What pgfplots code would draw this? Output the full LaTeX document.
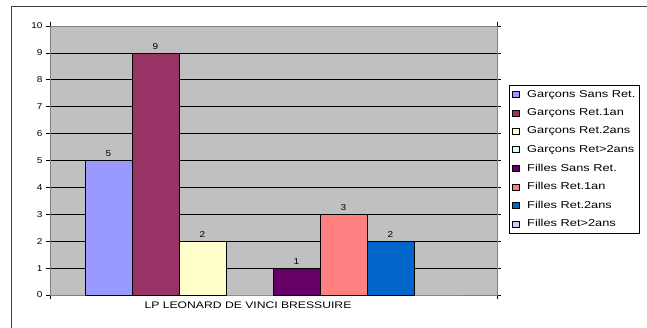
\documentclass[border=0pt]{standalone}
\usepackage{fontspec}
\setmainfont{Liberation Sans}[FakeStretch=1.18]
\newfontfamily\legfont{Liberation Sans}[FakeStretch=1.28]
\usepackage{pgfplots}
\pgfplotsset{compat=1.18}
\definecolor{plotgray}{HTML}{C0C0C0}
\definecolor{bordergray}{HTML}{808080}
\definecolor{cA}{HTML}{9999FF}
\definecolor{cB}{HTML}{993366}
\definecolor{cC}{HTML}{FFFFCC}
\definecolor{cD}{HTML}{CCFFFF}
\definecolor{cE}{HTML}{660066}
\definecolor{cF}{HTML}{FF8080}
\definecolor{cG}{HTML}{0066CC}
\definecolor{cH}{HTML}{CCCCFF}
\begin{document}
\begin{tikzpicture}[x=1pt,y=1pt]
\path[use as bounding box] (0,0) rectangle (647,327);
\draw[line width=1pt, black!75] (11,-20) rectangle (700,320);
\begin{axis}[
  at={(50pt,32pt)}, anchor=south west, scale only axis,
  width=447pt, height=269pt,
  xmin=0, xmax=447, ymin=0, ymax=10,
  ytick={0,1,...,10},
  xtick={0,447}, xticklabels={},
  extra x ticks={198}, extra x tick labels={LP LEONARD DE VINCI BRESSUIRE},
  extra x tick style={major tick length=0pt, grid=none,
    ticklabel style={font=\legfont\fontsize{9.5}{11}\selectfont, yshift=-3pt}},
  axis background/.style={fill=plotgray},
  axis line style={draw=bordergray, line width=0.8pt},
  ymajorgrids, major grid style={black, line width=0.6pt},
  tick align=outside, major tick length=4pt,
  tick style={black, line width=0.6pt},
  /pgf/number format/assume math mode=true,
  ticklabel style={font=\fontsize{8.5}{10}\selectfont},
  ybar,
  bar width=47,
  mybar/.style={fill=#1, draw=black, line width=0.5pt, bar shift=0pt,
    legend image code/.code={\path[draw=none, fill=none] (0pt,-3pt) rectangle (14pt,3pt);
      \draw[fill=#1, draw=black, line width=0.5pt] (1pt,-3pt) rectangle (8pt,3pt);}},
  lab/.style={nodes near coords, every node near coord/.append style={font=\fontsize{8.5}{10}\selectfont, black, /pgf/number format/assume math mode=true}},
  legend style={at={(1.0268,0.7807)}, anchor=north west, draw=black, line width=0.5pt,
    fill=white, font=\legfont\fontsize{10}{12}\selectfont, row sep=5.9pt, inner xsep=2pt, inner ysep=3pt},
  legend cell align=left,
]
\addplot[mybar=cA, lab] coordinates {(58.5,5)};
\addplot[mybar=cB, lab] coordinates {(105.5,9)};
\addplot[mybar=cC, lab] coordinates {(152.5,2)};
\addplot[mybar=cD, draw=none] coordinates {(199.5,0)};
\addplot[mybar=cE, lab] coordinates {(246.5,1)};
\addplot[mybar=cF, lab] coordinates {(293.5,3)};
\addplot[mybar=cG, lab] coordinates {(340.5,2)};
\addplot[mybar=cH, draw=none] coordinates {(387.5,0)};
\legend{Garçons Sans Ret., Garçons Ret.1an, Garçons Ret.2ans, Garçons Ret>2ans, Filles Sans Ret., Filles Ret.1an, Filles Ret.2ans, Filles Ret>2ans}
\end{axis}
\end{tikzpicture}
\end{document}
